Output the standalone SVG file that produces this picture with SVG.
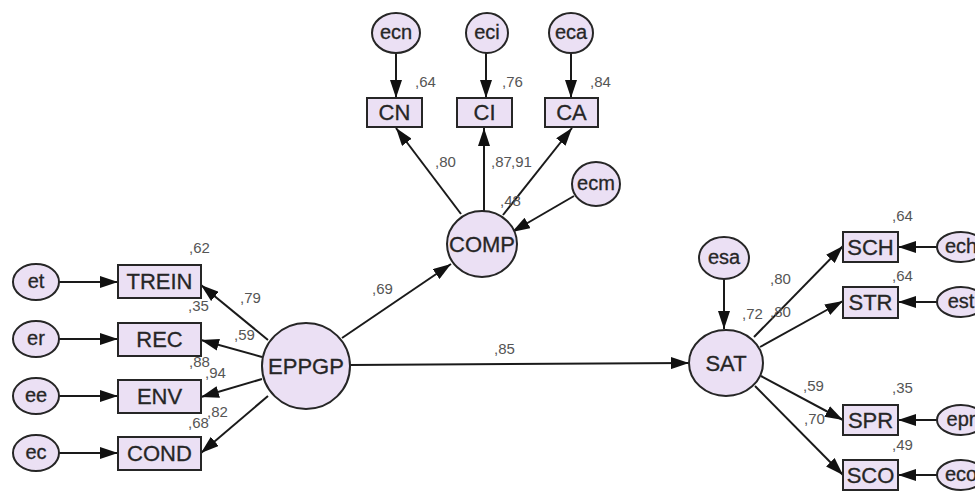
<svg xmlns="http://www.w3.org/2000/svg" width="975" height="495" viewBox="0 0 975 495">
  <style>
    .node { fill: #ebe0f4; stroke: #262626; stroke-width: 2; }
    .nt { font-family: "Liberation Sans", Arial, sans-serif; font-size: 22px; fill: #262626; text-anchor: middle; dominant-baseline: central; stroke: #262626; stroke-width: 0.3; }
    .et { font-family: "Liberation Sans", Arial, sans-serif; font-size: 20px; fill: #262626; text-anchor: middle; dominant-baseline: central; stroke: #262626; stroke-width: 0.3; }
    .lbl { font-family: "Liberation Sans", Arial, sans-serif; font-size: 15px; fill: #555; }
    .edge { stroke: #1a1a1a; stroke-width: 2; fill: none; marker-end: url(#ah); }
  </style>
  <defs>
    <marker id="ah" markerUnits="userSpaceOnUse" markerWidth="18" markerHeight="12" refX="18" refY="6" orient="auto">
      <path d="M0,0 L18,6 L0,12 z" fill="#111"/>
    </marker>
  </defs>
  <rect width="975" height="495" fill="#ffffff"/>

  <!-- connectors -->
  <g id="connectors">
    <!-- error terms to indicators (left) -->
    <line class="edge" x1="59" y1="282" x2="118" y2="282"/>
    <line class="edge" x1="59" y1="339" x2="118" y2="339"/>
    <line class="edge" x1="59" y1="396" x2="118" y2="396"/>
    <line class="edge" x1="59" y1="453" x2="118" y2="453"/>
    <!-- EPPGP loadings -->
    <line class="edge" x1="268" y1="340" x2="201" y2="285"/>
    <line class="edge" x1="262" y1="357" x2="201" y2="340"/>
    <line class="edge" x1="262" y1="379" x2="201" y2="397"/>
    <line class="edge" x1="268" y1="396" x2="201" y2="453"/>
    <!-- structural paths -->
    <line class="edge" x1="342" y1="338" x2="451" y2="264"/>
    <line class="edge" x1="350" y1="365" x2="689" y2="363"/>
    <!-- COMP loadings -->
    <line class="edge" x1="461" y1="214" x2="396" y2="128"/>
    <line class="edge" x1="484" y1="211" x2="484" y2="128"/>
    <line class="edge" x1="503" y1="215" x2="572" y2="128"/>
    <line class="edge" x1="574" y1="196" x2="512" y2="232"/>
    <!-- error terms to COMP indicators -->
    <line class="edge" x1="396" y1="53" x2="396" y2="98"/>
    <line class="edge" x1="486" y1="53" x2="486" y2="98"/>
    <line class="edge" x1="571" y1="53" x2="571" y2="98"/>
    <!-- SAT disturbance and loadings -->
    <line class="edge" x1="724" y1="279" x2="724" y2="329"/>
    <line class="edge" x1="754" y1="337" x2="843" y2="246"/>
    <line class="edge" x1="760" y1="347" x2="843" y2="301"/>
    <line class="edge" x1="761" y1="376" x2="843" y2="420"/>
    <line class="edge" x1="755" y1="386" x2="843" y2="475"/>
    <!-- error terms to SAT indicators -->
    <line class="edge" x1="937" y1="247" x2="898" y2="247"/>
    <line class="edge" x1="937" y1="302" x2="898" y2="302"/>
    <line class="edge" x1="937" y1="420" x2="898" y2="420"/>
    <line class="edge" x1="937" y1="475" x2="898" y2="475"/>
  </g>

  <!-- left error terms -->
  <g id="et"><ellipse class="node" cx="36" cy="282" rx="23" ry="18"/><text class="et" x="36" y="281">et</text></g>
  <g id="er"><ellipse class="node" cx="36" cy="339" rx="23" ry="18"/><text class="et" x="36" y="338">er</text></g>
  <g id="ee"><ellipse class="node" cx="36" cy="396" rx="23" ry="18"/><text class="et" x="36" y="395">ee</text></g>
  <g id="ec"><ellipse class="node" cx="36" cy="453" rx="23" ry="18"/><text class="et" x="36" y="452">ec</text></g>

  <!-- left indicators -->
  <g id="TREIN"><rect class="node" x="118" y="265" width="83" height="33"/><text class="nt" x="159.5" y="281.5">TREIN</text></g>
  <g id="REC"><rect class="node" x="118" y="323" width="83" height="33"/><text class="nt" x="159.5" y="339.5">REC</text></g>
  <g id="ENV"><rect class="node" x="118" y="380" width="83" height="33"/><text class="nt" x="159.5" y="396.5">ENV</text></g>
  <g id="COND"><rect class="node" x="118" y="437" width="83" height="33"/><text class="nt" x="159.5" y="453.5">COND</text></g>

  <!-- latent EPPGP -->
  <g id="EPPGP"><ellipse class="node" cx="306" cy="366" rx="44" ry="43"/><text class="nt" x="306" y="366">EPPGP</text></g>

  <!-- COMP block -->
  <g id="COMP"><ellipse class="node" cx="482" cy="244" rx="35" ry="33"/><text class="nt" x="482" y="244">COMP</text></g>
  <g id="ecm"><ellipse class="node" cx="596" cy="184" rx="24" ry="22"/><text class="et" x="596" y="183">ecm</text></g>
  <g id="CN"><rect class="node" x="367" y="98" width="55" height="29"/><text class="nt" x="394.5" y="112.5">CN</text></g>
  <g id="CI"><rect class="node" x="457" y="98" width="55" height="29"/><text class="nt" x="484.5" y="112.5">CI</text></g>
  <g id="CA"><rect class="node" x="545" y="98" width="53" height="29"/><text class="nt" x="571.5" y="112.5">CA</text></g>
  <g id="ecn"><ellipse class="node" cx="396" cy="33" rx="24" ry="20"/><text class="et" x="396" y="32">ecn</text></g>
  <g id="eci"><ellipse class="node" cx="487" cy="33" rx="21" ry="20"/><text class="et" x="487" y="32">eci</text></g>
  <g id="eca"><ellipse class="node" cx="571" cy="33" rx="22" ry="20"/><text class="et" x="571" y="32">eca</text></g>

  <!-- SAT block -->
  <g id="SAT"><ellipse class="node" cx="726" cy="363" rx="37" ry="33"/><text class="nt" x="726" y="363">SAT</text></g>
  <g id="esa"><ellipse class="node" cx="724" cy="258" rx="25" ry="21"/><text class="et" x="724" y="257">esa</text></g>
  <g id="SCH"><rect class="node" x="843" y="232" width="55" height="30"/><text class="nt" x="870.5" y="247">SCH</text></g>
  <g id="STR"><rect class="node" x="843" y="287" width="55" height="31"/><text class="nt" x="870.5" y="302.5">STR</text></g>
  <g id="SPR"><rect class="node" x="843" y="405" width="55" height="30"/><text class="nt" x="870.5" y="420">SPR</text></g>
  <g id="SCO"><rect class="node" x="843" y="460" width="55" height="30"/><text class="nt" x="870.5" y="475">SCO</text></g>
  <!-- right error terms run past the right edge of the canvas -->
  <g id="ech"><ellipse class="node" cx="961" cy="247" rx="24" ry="15"/><text class="et" x="961" y="246">ech</text></g>
  <g id="est"><ellipse class="node" cx="961" cy="302" rx="24" ry="15"/><text class="et" x="961" y="301">est</text></g>
  <g id="epr"><ellipse class="node" cx="961" cy="420" rx="24" ry="15"/><text class="et" x="961" y="419">epr</text></g>
  <g id="eco"><ellipse class="node" cx="961" cy="475" rx="24" ry="15"/><text class="et" x="961" y="474">eco</text></g>

  <!-- estimates -->
  <g id="estimates">
    <text class="lbl" x="189" y="253">,62</text>
    <text class="lbl" x="240" y="303">,79</text>
    <text class="lbl" x="188" y="311">,35</text>
    <text class="lbl" x="234" y="340">,59</text>
    <text class="lbl" x="189" y="367">,88</text>
    <text class="lbl" x="205" y="378">,94</text>
    <text class="lbl" x="188" y="428">,68</text>
    <text class="lbl" x="207" y="417">,82</text>
    <text class="lbl" x="372" y="294">,69</text>
    <text class="lbl" x="494" y="354">,85</text>
    <text class="lbl" x="435" y="167">,80</text>
    <text class="lbl" x="491" y="167">,87</text>
    <text class="lbl" x="511" y="167">,91</text>
    <text class="lbl" x="500" y="206">,48</text>
    <text class="lbl" x="415" y="87">,64</text>
    <text class="lbl" x="502" y="87">,76</text>
    <text class="lbl" x="590" y="87">,84</text>
    <text class="lbl" x="742" y="319">,72</text>
    <text class="lbl" x="770" y="284">,80</text>
    <text class="lbl" x="770" y="317">,80</text>
    <text class="lbl" x="892" y="221">,64</text>
    <text class="lbl" x="892" y="281">,64</text>
    <text class="lbl" x="803" y="391">,59</text>
    <text class="lbl" x="892" y="393">,35</text>
    <text class="lbl" x="804" y="424">,70</text>
    <text class="lbl" x="892" y="450">,49</text>
  </g>
</svg>
